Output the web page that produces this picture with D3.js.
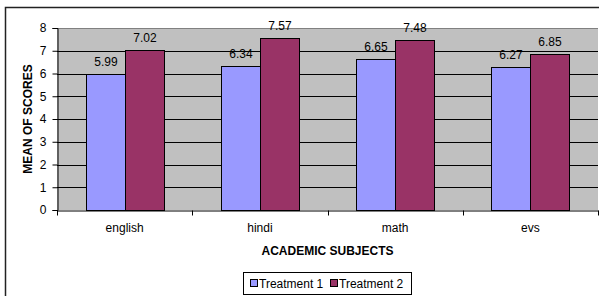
<!DOCTYPE html>
<html><head><meta charset="utf-8">
<script src="https://cdn.jsdelivr.net/npm/d3@7"></script>
<style>body{margin:0;background:#fff;}svg{display:block;font-family:"Liberation Sans",Arial,sans-serif;}</style>
</head><body>
<script>
const categories = ["english", "hindi", "math", "evs"];
const seriesNames = ["Treatment 1", "Treatment 2"];
const treatment1 = [5.99, 6.34, 6.65, 6.27];
const treatment2 = [7.02, 7.57, 7.48, 6.85];
const yTicks = [0, 1, 2, 3, 4, 5, 6, 7, 8];
const colors = ["#9999FF", "#993366"];

(function () {
const W = 599, H = 296;
const FS = 12;
const svg = d3.select("body").append("svg").attr("width", W).attr("height", H);

// chart border
svg.append("path").attr("d", "M5.5,300 V7.5 H605").attr("fill", "none").attr("stroke", "#222").attr("stroke-width", 1.5);

const pL = 57, pR = 598, pT = 28, pB = 210;
const x = d3.scaleBand().domain(categories).range([pL, pR]);
const y = d3.scaleLinear().domain([0, 8]).range([pB, pT]);

svg.append("rect").attr("x", pL).attr("y", pT).attr("width", pR - pL).attr("height", pB - pT).attr("fill", "#C0C0C0");
svg.append("line").attr("x1", pL).attr("x2", pR).attr("y1", pT + 0.5).attr("y2", pT + 0.5).attr("stroke", "#808080");

// gridlines
svg.append("g").selectAll("line").data(yTicks.filter(d => d > 0 && d < 8)).join("line")
  .attr("x1", pL).attr("x2", pR)
  .attr("y1", d => Math.round(y(d)) + 0.5).attr("y2", d => Math.round(y(d)) + 0.5)
  .attr("stroke", "#000");

const barW = 39;
const data = categories.map((c, i) => ({c, vals: [treatment1[i], treatment2[i]]}));
const g = svg.append("g");
data.forEach(d => {
  const cx = x(d.c) + x.bandwidth() / 2;
  d.vals.forEach((v, j) => {
    const bx = Math.round(cx - barW + j * barW);
    g.append("rect").attr("x", bx + 0.5).attr("y", Math.round(y(v)) + 0.5)
      .attr("width", barW).attr("height", Math.round(y(0)) - Math.round(y(v)))
      .attr("fill", colors[j]).attr("stroke", "#000").attr("stroke-width", 1);
    g.append("text").attr("x", bx + barW / 2 + 0.5).attr("y", y(v) - 8)
      .attr("text-anchor", "middle").attr("font-size", FS).attr("fill", "#000").text(v.toFixed(2));
  });
});

// y axis
const ya = svg.append("g").attr("transform", `translate(${pL + 0.5},0)`)
  .call(d3.axisLeft(y).tickValues(yTicks).tickSize(5).tickPadding(6));
ya.select(".domain").attr("stroke", "#000");
ya.selectAll("line").attr("stroke", "#000");
ya.selectAll("text").attr("font-size", FS).attr("font-family", "Liberation Sans, Arial, sans-serif").attr("fill", "#000");

// x axis
const xa = svg.append("g").attr("transform", `translate(0,${pB + 0.5})`)
  .call(d3.axisBottom(x).tickSize(0).tickPadding(13));
xa.select(".domain").attr("stroke", "#000");
xa.selectAll("text").attr("font-size", FS).attr("font-family", "Liberation Sans, Arial, sans-serif").attr("fill", "#000");
const edges = categories.map(c => x(c)).concat([pR]);
xa.append("g").selectAll("line").data(edges).join("line")
  .attr("x1", d => Math.round(d) + 0.5).attr("x2", d => Math.round(d) + 0.5)
  .attr("y1", 0).attr("y2", 5).attr("stroke", "#000");

// axis titles
svg.append("text").attr("x", (pL + pR) / 2).attr("y", 255).attr("text-anchor", "middle")
  .attr("font-size", FS).attr("font-weight", "bold").text("ACADEMIC SUBJECTS");
svg.append("text").attr("transform", `translate(32,${(pT + pB) / 2}) rotate(-90)`).attr("text-anchor", "middle")
  .attr("font-size", FS).attr("font-weight", "bold").text("MEAN OF SCORES");

// legend
const lg = svg.append("g");
lg.append("rect").attr("x", 243.5).attr("y", 272.5).attr("width", 168).attr("height", 22).attr("fill", "#fff").attr("stroke", "#000");
const lx = [250, 330];
seriesNames.forEach((s, i) => {
  lg.append("rect").attr("x", lx[i] + 0.5).attr("y", 279.5).attr("width", 7).attr("height", 7).attr("fill", colors[i]).attr("stroke", "#000");
  lg.append("text").attr("x", lx[i] + 9).attr("y", 288).attr("font-size", FS).text(s);
});
})();
</script>
</body></html>
